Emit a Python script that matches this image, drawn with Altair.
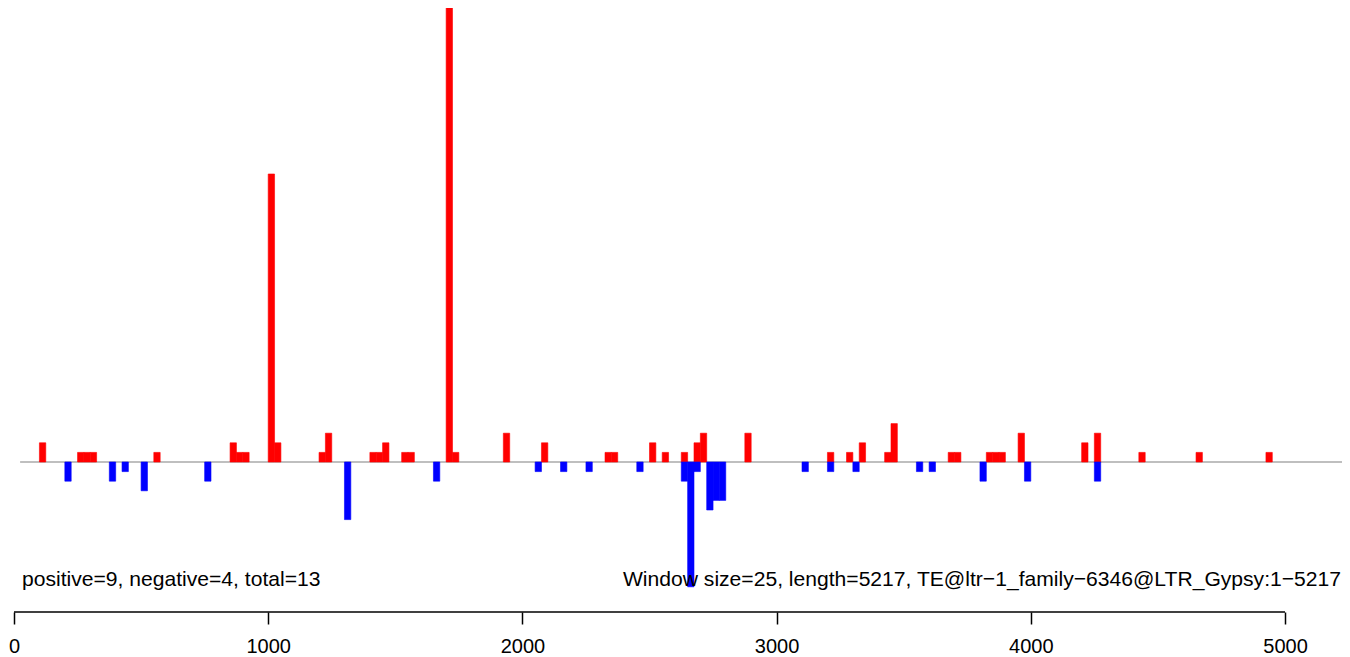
import altair as alt
import pandas as pd

WINDOW = 25

# window index -> count (positive strand, red)
pos_index = [4, 10, 11, 12, 22, 34, 35, 36, 40, 41, 48, 49, 56, 57, 58, 61, 62, 68, 69, 77,
             83, 93, 94, 100, 102, 105, 107, 108, 115, 128, 131, 133, 137, 138, 147, 148,
             153, 154, 155, 158, 168, 170, 177, 186, 197]
pos_value = [2, 1, 1, 1, 1, 2, 1, 1, 30, 2, 1, 3, 1, 1, 2, 1, 1, 48, 1, 3,
             2, 1, 1, 2, 1, 1, 2, 3, 3, 1, 1, 2, 1, 4, 1, 1,
             1, 1, 1, 3, 2, 3, 1, 1, 1]

# window index -> count (negative strand, blue)
neg_index = [8, 15, 17, 20, 30, 52, 66, 82, 86, 90, 98, 105, 106, 107, 109, 110, 111,
             124, 128, 132, 142, 144, 152, 159, 170]
neg_value = [-2, -2, -1, -3, -2, -6, -2, -1, -1, -1, -1, -2, -13, -1, -5, -4, -4,
             -1, -1, -1, -1, -1, -2, -2, -2]

tick_values = [0, 1000, 2000, 3000, 4000, 5000]
left_text = "positive=9, negative=4, total=13"
right_text = "Window size=25, length=5217, TE@ltr\u22121_family\u22126346@LTR_Gypsy:1\u22125217"

rows = []
for i, v in zip(pos_index, pos_value):
    rows.append({"start": i * WINDOW, "end": (i + 1) * WINDOW, "value": v, "base": 0, "strand": "pos"})
for i, v in zip(neg_index, neg_value):
    rows.append({"start": i * WINDOW, "end": (i + 1) * WINDOW, "value": v, "base": 0, "strand": "neg"})
df = pd.DataFrame(rows)

FONT = "Liberation Sans"
W, H = 1334, 604

xscale = alt.Scale(domain=[-23.6, 5224.2], nice=False, zero=False)
yscale = alt.Scale(domain=[-15.625, 47.29], nice=False, zero=False)

xaxis = alt.Axis(values=tick_values, format="d", title=None, grid=False, domain=False,
                 tickSize=12, tickColor="black", tickWidth=1.5,
                 labelFont=FONT, labelFontSize=20, labelColor="black",
                 labelPadding=12, labelFlush=False, labelOverlap=False)

colscale = alt.Scale(domain=["pos", "neg"], range=["#FF0000", "#0000FF"])

zero_line = alt.Chart(pd.DataFrame({"x": [24], "x2": [5300], "y": [0]})).mark_rule(
    color="#808080", strokeWidth=1.2, clip=True
).encode(
    x=alt.X("x:Q", scale=xscale, axis=xaxis),
    x2="x2:Q",
    y=alt.Y("y:Q", scale=yscale, axis=None),
)

bars = alt.Chart(df).mark_rect(clip=True, strokeWidth=0.6).encode(
    x=alt.X("start:Q", scale=xscale, axis=xaxis),
    x2="end:Q",
    y=alt.Y("value:Q", scale=yscale, axis=None),
    y2="base:Q",
    color=alt.Color("strand:N", scale=colscale, legend=None),
    stroke=alt.Stroke("strand:N", scale=colscale, legend=None),
)

axis_line = alt.Chart(pd.DataFrame({"x": [0], "x2": [5000]})).mark_rule(
    color="black", strokeWidth=1.5
).encode(
    x=alt.X("x:Q", scale=xscale, axis=xaxis),
    x2="x2:Q",
    y=alt.value(H),
)

txt_left = alt.Chart(pd.DataFrame({"t": [left_text]})).mark_text(
    align="left", baseline="alphabetic", font=FONT, fontSize=21.1, color="black"
).encode(text="t:N", x=alt.value(14), y=alt.value(578))

txt_right = alt.Chart(pd.DataFrame({"t": [right_text]})).mark_text(
    align="right", baseline="alphabetic", font=FONT, fontSize=21.1, color="black"
).encode(text="t:N", x=alt.value(1333), y=alt.value(578))

chart = alt.layer(zero_line, bars, axis_line, txt_left, txt_right).properties(
    width=W, height=H,
    padding={"left": 0, "top": 0, "right": 0, "bottom": 45},
    autosize=alt.AutoSizeParams(type="none"),
    background="white",
).configure_view(stroke=None)

chart.save("out.html", embed_options={"renderer": "svg", "actions": False})
